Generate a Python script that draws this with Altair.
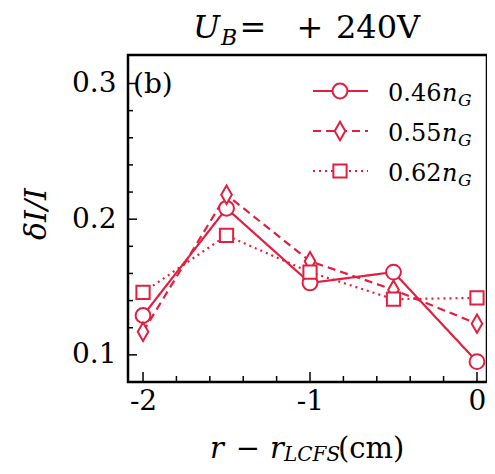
import pandas as pd
import altair as alt

# radial position and relative fluctuation for three densities
r_pos = [-2.0, -1.5, -1.0, -0.5, 0.0]
di_046 = [0.129, 0.208, 0.153, 0.161, 0.095]
di_055 = [0.117, 0.218, 0.169, 0.148, 0.123]
di_062 = [0.146, 0.188, 0.161, 0.141, 0.142]
series_names = ["0.46", "0.55", "0.62"]
series_shapes = ["circle", "M0,-1.3L0.75,0L0,1.3L-0.75,0Z", "square"]
series_sizes = [220, 200, 175]
series_dash = [[1, 0], [8, 5], [2, 4]]

x_major = [-2, -1, 0]
x_minor = [-1.8, -1.6, -1.4, -1.2, -0.8, -0.6, -0.4, -0.2]
y_major = [0.1, 0.2, 0.3]
y_minor = [0.12, 0.14, 0.16, 0.18, 0.22, 0.24, 0.26, 0.28]

RED = "#E41E3F"
FONT = "DejaVu Serif"
W, H = 359, 327

xs = alt.Scale(domain=[-2.09, 0.06], nice=False, zero=False)
ys = alt.Scale(domain=[0.080, 0.321], nice=False, zero=False)

df = pd.DataFrame({
    "r": r_pos * 3,
    "di": di_046 + di_055 + di_062,
    "s": [n for n in series_names for _ in r_pos],
})

x_axis = alt.Axis(values=x_major, labelExpr="'' + datum.value", ticks=False, domain=False,
                  grid=False, labelFontSize=28, labelPadding=5, labelFont=FONT,
                  labelColor="black", title=None)
y_axis = alt.Axis(values=y_major, format=".1f", ticks=False, domain=False, grid=False,
                  labelFontSize=28, labelPadding=12, labelFont=FONT,
                  labelColor="black", title=None)


def label(text, x, y, size, italic=False, align="left", baseline="alphabetic", angle=0):
    return alt.Chart(pd.DataFrame({"t": [text]})).mark_text(
        font=FONT, fontSize=size, fontStyle="italic" if italic else "normal",
        align=align, baseline=baseline, angle=angle, color="black"
    ).encode(x=alt.value(x), y=alt.value(y), text="t:N")


layers = []
# lines first
for name, dash in zip(series_names, series_dash):
    sub = df[df["s"] == name]
    layers.append(alt.Chart(sub).mark_line(
        color=RED, strokeWidth=2.2, strokeDash=dash).encode(
        x=alt.X("r:Q", scale=xs, axis=x_axis),
        y=alt.Y("di:Q", scale=ys, axis=y_axis)))

# markers on top
for name, shape, size in zip(series_names, series_shapes, series_sizes):
    sub = df[df["s"] == name]
    layers.append(alt.Chart(sub).mark_point(
        shape=shape, size=size, filled=True, fill="white", stroke=RED,
        strokeWidth=2, opacity=1).encode(
        x=alt.X("r:Q", scale=xs, axis=x_axis), y=alt.Y("di:Q", scale=ys, axis=y_axis)))


# inward ticks
def yticks(vals, length):
    return alt.Chart(pd.DataFrame({"di": vals})).mark_rule(
        color="black", strokeWidth=1.5).encode(
        y=alt.Y("di:Q", scale=ys, axis=y_axis), x=alt.value(0), x2=alt.value(length))


def xticks(vals, length):
    return alt.Chart(pd.DataFrame({"r": vals})).mark_rule(
        color="black", strokeWidth=1.5).encode(
        x=alt.X("r:Q", scale=xs, axis=x_axis), y=alt.value(H), y2=alt.value(H - length))


layers += [yticks(y_major, 9), yticks(y_minor, 5), xticks(x_major, 10), xticks(x_minor, 6)]

# legend
for i, (name, shape, size, dash) in enumerate(zip(series_names, series_shapes, series_sizes, series_dash)):
    cy = 36 + 40 * i
    one = pd.DataFrame({"t": [name]})
    layers.append(alt.Chart(one).mark_rule(color=RED, strokeWidth=2.2, strokeDash=dash).encode(
        x=alt.value(185), x2=alt.value(240), y=alt.value(cy)))
    layers.append(alt.Chart(one).mark_point(
        shape=shape, size=size, filled=True, fill="white", stroke=RED,
        strokeWidth=2, opacity=1).encode(x=alt.value(212), y=alt.value(cy)))
    layers.append(label(name, 260, cy + 10, 24))
    layers.append(label("n", 314, cy + 10, 24, italic=True))
    layers.append(label("G", 330, cy + 15, 17, italic=True))

# panel tag
layers.append(label("(b)", 5, 38, 28))

# title  U_B = +240V
layers += [
    label("U", 65, -17, 32, italic=True),
    label("B", 93, -10, 22, italic=True),
    label("=", 125, -17, 32, align="center"),
    label("+", 182, -17, 32, align="center"),
    label("240V", 208, -17, 32),
]

# y title
layers.append(label("δI/I", -91, 159, 30, italic=True, align="center",
                    baseline="middle", angle=270))

# x title  r - r_LCFS (cm)
layers += [
    label("r", 82, 403, 29, italic=True),
    label("−", 120, 403, 29, align="center"),
    label("r", 142, 403, 29, italic=True),
    label("LCFS", 156, 406, 20, italic=True),
    label("(cm)", 210, 403, 29),
]

chart = alt.layer(*layers).properties(
    width=W, height=H,
    autosize=alt.AutoSizeParams(type="none"),
    padding={"left": 120, "top": 47, "right": 0, "bottom": 84},
    background="white",
).configure_view(stroke="black", strokeWidth=2.5)

chart.save("out.html", embed_options={"renderer": "svg", "actions": False})
